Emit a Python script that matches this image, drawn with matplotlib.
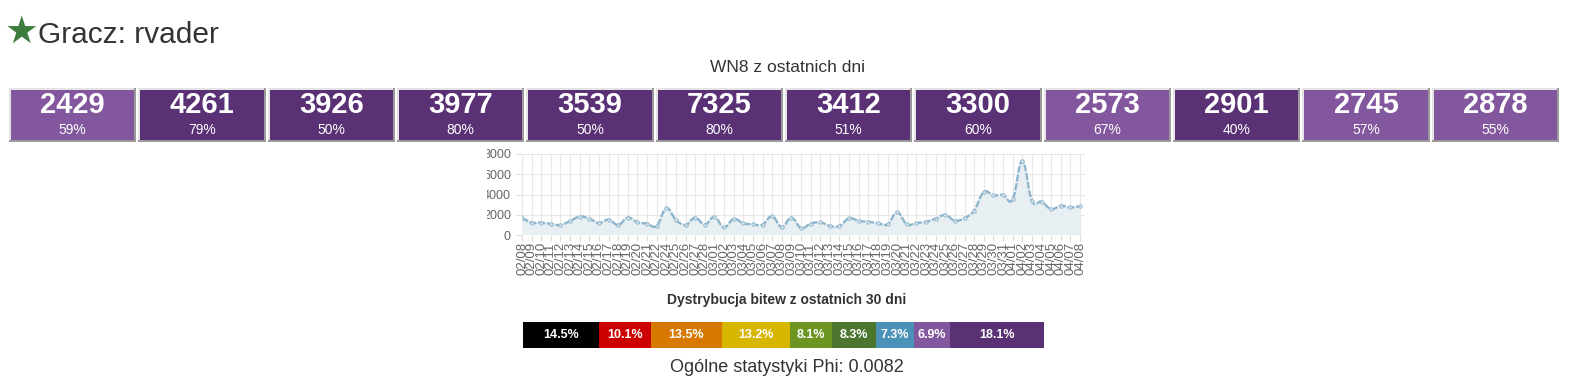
import matplotlib
matplotlib.use('Agg')
import matplotlib.pyplot as plt
import numpy as np
from matplotlib.path import Path
from matplotlib.patches import PathPatch, Rectangle

plt.rcParams['font.family'] = ['Liberation Sans', 'DejaVu Sans']

W, H = 1574, 384

# daily WN8 over the last two months
dates = ['02/08', '02/09', '02/10', '02/11', '02/12', '02/13', '02/14', '02/15', '02/16', '02/17',
         '02/18', '02/19', '02/20', '02/21', '02/22', '02/24', '02/25', '02/26', '02/27', '02/28',
         '03/01', '03/02', '03/03', '03/04', '03/05', '03/06', '03/07', '03/08', '03/09', '03/10',
         '03/11', '03/12', '03/13', '03/14', '03/15', '03/16', '03/17', '03/18', '03/19', '03/20',
         '03/21', '03/22', '03/23', '03/24', '03/25', '03/26', '03/27', '03/28', '03/29', '03/30',
         '03/31', '04/01', '04/02', '04/03', '04/04', '04/05', '04/06', '04/07', '04/08']
wn8 = [1740, 1250, 1250, 1110, 1020, 1410, 1840, 1640, 1210, 1540,
       1020, 1740, 1280, 1150, 920, 2660, 1510, 1020, 1740, 1050,
       1800, 790, 1610, 1180, 1080, 1050, 1870, 800, 1740, 720,
       1150, 1280, 920, 920, 1670, 1410, 1340, 1180, 1080, 2260,
       1080, 1210, 1340, 1640, 2000, 1440, 1700, 2429, 4261, 3926,
       3977, 3539, 7325, 3412, 3300, 2573, 2901, 2745, 2878]

# last days boxes
recent_wn8 = [2429, 4261, 3926, 3977, 3539, 7325, 3412, 3300, 2573, 2901, 2745, 2878]
recent_wr = [59, 79, 50, 80, 50, 80, 51, 60, 67, 40, 57, 55]

# battle distribution, last 30 days
dist_pct = [14.5, 10.1, 13.5, 13.2, 8.1, 8.3, 7.3, 6.9, 18.1]
dist_colors = ['#000000', '#cd0000', '#d77900', '#d7b600', '#6d9521',
               '#4c762e', '#4a92b7', '#83579d', '#5a3175']

phi = 0.0082
player = 'rvader'


def fx(x):
    return x / W


def fy(y):
    return 1 - y / H


fig = plt.figure(figsize=(W / 100, H / 100), dpi=100)
fig.patch.set_facecolor('white')

# header
fig.text(fx(5), fy(43), '\u2605', fontsize=27, color='#3d7b3f', family='DejaVu Sans', va='baseline')
fig.text(fx(38), fy(43), 'Gracz: ' + player, fontsize=21.5, color='#333333', va='baseline')
fig.text(fx(787), fy(68), 'WN8 z ostatnich dni', fontsize=12.5, color='#333333', ha='center', va='center')

# boxes with recent WN8
bx = fig.add_axes([fx(8), fy(142), fx(1560 - 8), (142 - 88) / H])
bx.set_xlim(-0.5, len(recent_wn8) - 0.5)
bx.set_ylim(0, 1)
bx.axis('off')
pitch = (1560 - 8) / len(recent_wn8)
dxp = 1 / pitch
dyp = 1 / 54
idx = np.arange(len(recent_wn8))
box_colors = ['#5a3175' if v >= 2900 else '#83579d' for v in recent_wn8]
wbox = 1 - 2 * dxp
bx.bar(idx, 1, width=wbox, bottom=0, color='#9a9a9a')
bx.bar(idx - dxp, 1 - 2 * dyp, width=wbox - 2 * dxp, bottom=2 * dyp, color='#e4e4e4')
bx.bar(idx, 1 - 4 * dyp, width=wbox - 4 * dxp, bottom=2 * dyp, color=box_colors)
for i, (v, r) in enumerate(zip(recent_wn8, recent_wr)):
    bx.text(i, (142 - 105) / 54, str(v), color='white', fontsize=21, fontweight='bold',
            ha='center', va='center')
    bx.text(i, (142 - 130) / 54, '%d%%' % r, color='white', fontsize=10,
            ha='center', va='center')

# WN8 line chart
ax = fig.add_axes([fx(522), fy(235.3), fx(1085.3 - 522), (235.3 - 154) / H])
x = np.arange(len(wn8))
y = np.array(wn8, dtype=float)
pts = np.column_stack([x, y])
d = np.zeros_like(pts)
d[1:-1] = (pts[2:] - pts[:-2]) * 0.2
verts = [tuple(pts[0])]
codes = [Path.MOVETO]
for i in range(len(pts) - 1):
    verts += [tuple(pts[i] + d[i]), tuple(pts[i + 1] - d[i + 1]), tuple(pts[i + 1])]
    codes += [Path.CURVE4] * 3
line_path = Path(verts, codes)
fill_path = Path(verts + [(x[-1], 0), (x[0], 0), (x[0], 0)],
                 codes + [Path.LINETO, Path.LINETO, Path.CLOSEPOLY])
ax.add_patch(PathPatch(fill_path, facecolor='#e8eff3', edgecolor='none', zorder=1))
ax.add_patch(PathPatch(line_path, facecolor='none', edgecolor='#8db5cc', lw=1.7,
                       linestyle=(0, (3, 0.7)), zorder=2))
ax.plot(x, y, 'o', ms=2.5, mfc='#d5e4ed', mec='#8db5cc', mew=0.6, zorder=3)
ax.set_xlim(0, len(wn8) - 1 + 0.55)
ax.set_ylim(0, 8000)
ax.set_xticks(x)
ax.set_xticklabels(dates, rotation=90, fontsize=9.5, color='#666666')
ax.set_yticks([0, 2000, 4000, 6000, 8000])
ax.set_yticklabels(['0', '2000', '4000', '6000', '8000'], fontsize=9, color='#666666')
ax.tick_params(axis='both', length=4, color='#dddddd', width=0.8, pad=4)
ax.tick_params(axis='x', pad=1)
ax.grid(True, color='#e8e8e8', lw=0.8)
ax.set_axisbelow(True)
for s in ax.spines.values():
    s.set_visible(False)
ax.axhline(0, color='#d0d0d0', lw=0.8, zorder=0)
ax.axvline(0, color='#d0d0d0', lw=0.8, zorder=0)
ax.set_facecolor('none')

# the chart canvas cuts the left edge of the y labels
fig.add_artist(Rectangle((0, fy(240)), fx(487), (240 - 145) / H, transform=fig.transFigure,
                         facecolor='white', edgecolor='none', zorder=10))

# distribution
fig.text(fx(787), fy(300), 'Dystrybucja bitew z ostatnich 30 dni', fontsize=10,
         fontweight='bold', color='#333333', ha='center', va='center')
dx = fig.add_axes([fx(523), fy(347.7), fx(1044 - 523), (347.7 - 321.7) / H])
left = np.concatenate([[0], np.cumsum(dist_pct)[:-1]])
dx.barh(0, dist_pct, left=left, height=1, color=dist_colors)
dx.set_xlim(0, sum(dist_pct))
dx.set_ylim(-0.5, 0.5)
dx.axis('off')
for l, p in zip(left, dist_pct):
    dx.text(l + p / 2, 0, '%.1f%%' % p, color='white', fontsize=9, fontweight='bold',
            ha='center', va='center')

fig.text(fx(787), fy(367), 'Ogólne statystyki Phi: %s' % phi, fontsize=13,
         color='#333333', ha='center', va='center')

fig.savefig('out.png', dpi=100, facecolor='white')
